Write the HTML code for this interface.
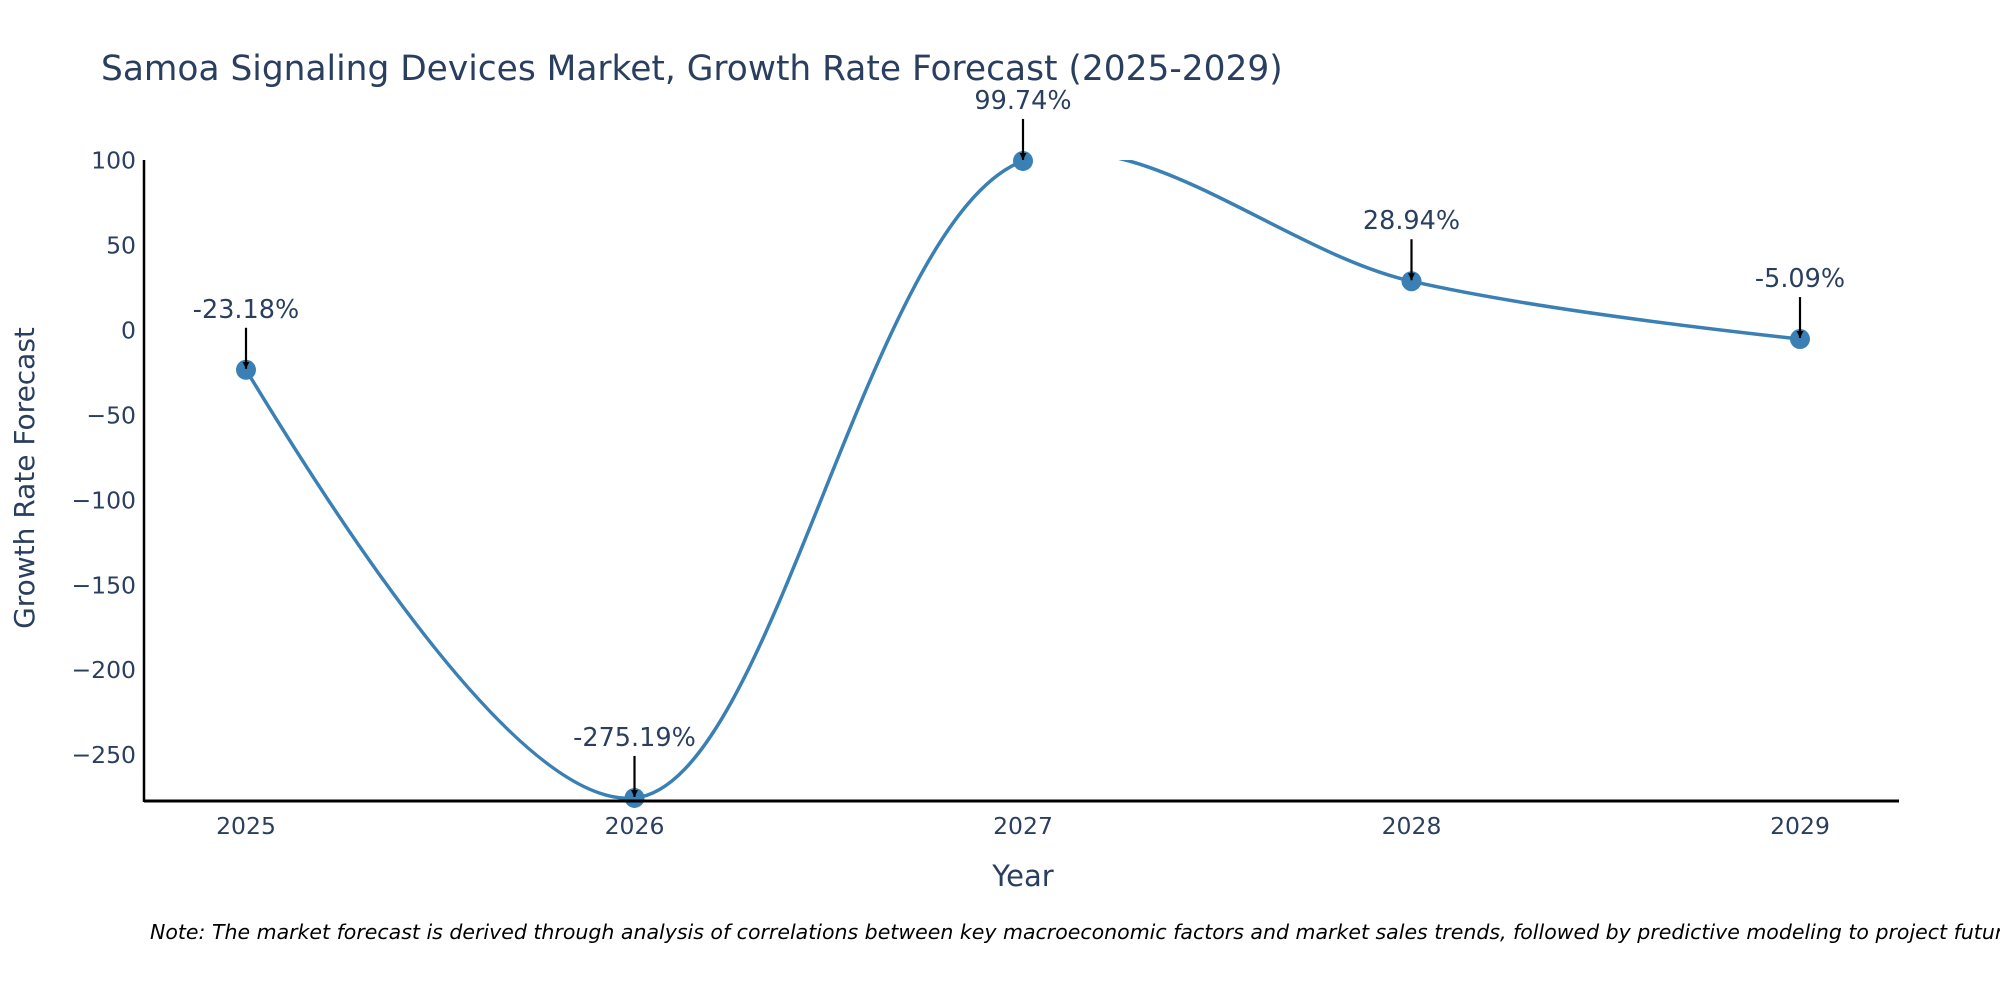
<!DOCTYPE html>
<html><head><meta charset="utf-8"><style>
html,body{margin:0;padding:0;background:#fff;}
svg{display:block;font-family:"DejaVu Sans","Liberation Sans",sans-serif;}
</style></head><body>
<svg id="chart" width="2000" height="1000" viewBox="0 0 2000 1000">
<defs>
<clipPath id="plotclip"><rect x="144" y="160" width="1756" height="642"/></clipPath>
<marker id="arrowhead" viewBox="0 0 10 10" refX="10" refY="5" markerWidth="7" markerHeight="7" markerUnits="userSpaceOnUse" orient="auto"><path d="M0,0 L10,5 L0,10 z" fill="#000"/></marker>
</defs>
<text x="101" y="80" font-size="34.4" fill="#2a3f5f">Samoa Signaling Devices Market, Growth Rate Forecast (2025-2029)</text>
<g id="yticks"></g>
<g id="xticks"></g>
<g clip-path="url(#plotclip)"><path id="line" fill="none" stroke="#3a80b4" stroke-width="3.5"/></g>
<g id="points"></g>
<g id="annots"></g>
<line x1="144" y1="160" x2="144" y2="802" stroke="#000" stroke-width="2.5"/>
<line x1="144" y1="801" x2="1899" y2="801" stroke="#000" stroke-width="3"/>
<text x="1023" y="886" font-size="29" fill="#2a3f5f" text-anchor="middle">Year</text>
<text transform="translate(34,478) rotate(-90)" font-size="28" fill="#2a3f5f" text-anchor="middle">Growth Rate Forecast</text>
<text x="150" y="939" font-size="20.5" font-style="italic" fill="#000">Note: The market forecast is derived through analysis of correlations between key macroeconomic factors and market sales trends, followed by predictive modeling to project future sales.</text>
</svg>
<script>
const years = [2025, 2026, 2027, 2028, 2029];
const growth = [-23.18, -275.19, 99.74, 28.94, -5.09];
const yTicks = [100, 50, 0, -50, -100, -150, -200, -250];
const NS = "http://www.w3.org/2000/svg";
const X0 = 246, XSTEP = 388.5;
function xs(v){ return X0 + (v - years[0]) * XSTEP; }
const Y0 = 330.4, YK = 1.699;
function ys(v){ return Y0 - v * YK; }
function mk(tag, attrs, parent){
  const e = document.createElementNS(NS, tag);
  for (const k in attrs) e.setAttribute(k, attrs[k]);
  parent.appendChild(e); return e;
}
const fmt = v => v < 0 ? "\u2212" + Math.abs(v) : String(v);
const yg = document.getElementById("yticks");
yTicks.forEach(t => {
  const e = mk("text", {x: 136, y: ys(t) + 8, "font-size": 23.5, fill: "#2a3f5f", "text-anchor": "end"}, yg);
  
  
  e.textContent = fmt(t);
});
const xg = document.getElementById("xticks");
years.forEach(y => {
  const e = mk("text", {x: xs(y), y: 834, "font-size": 23.5, fill: "#2a3f5f", "text-anchor": "middle"}, xg);
  
  
  e.textContent = y;
});
const pts = years.map((y, i) => [xs(y), ys(growth[i])]);
function tangent(p0, p1, p2, s){
  const d1x = p0[0]-p1[0], d1y = p0[1]-p1[1], d2x = p2[0]-p1[0], d2y = p2[1]-p1[1];
  const d1a = Math.pow(d1x*d1x + d1y*d1y, 0.25), d2a = Math.pow(d2x*d2x + d2y*d2y, 0.25);
  const nx = (d2a*d2a*d1x - d1a*d1a*d2x) * s, ny = (d2a*d2a*d1y - d1a*d1a*d2y) * s;
  const den1 = 3*d2a*(d1a+d2a), den2 = 3*d1a*(d1a+d2a);
  return [[p1[0]+nx/den1, p1[1]+ny/den1], [p1[0]-nx/den2, p1[1]-ny/den2]];
}
const tg = [];
for (let i = 1; i < pts.length - 1; i++) tg.push(tangent(pts[i-1], pts[i], pts[i+1], 1));
const P = p => p[0].toFixed(2) + "," + p[1].toFixed(2);
let d = "M" + P(pts[0]) + "Q" + P(tg[0][0]) + " " + P(pts[1]);
for (let i = 2; i < pts.length - 1; i++) d += "C" + P(tg[i-2][1]) + " " + P(tg[i-1][0]) + " " + P(pts[i]);
d += "Q" + P(tg[tg.length-1][1]) + " " + P(pts[pts.length-1]);
document.getElementById("line").setAttribute("d", d);
const pg = document.getElementById("points");
const ag = document.getElementById("annots");
pts.forEach((p, i) => {
  const c = mk("circle", {cx: p[0], cy: p[1], r: 10, fill: "#3a80b4"}, pg);
  
  
  const a = mk("line", {x1: p[0], y1: p[1] - 42, x2: p[0], y2: p[1] - 1, stroke: "#000", "stroke-width": 2.2, "marker-end": "url(#arrowhead)"}, ag);
  
  
  const t = mk("text", {x: p[0], y: p[1] - 52, "font-size": 25.5, fill: "#2a3f5f", "text-anchor": "middle"}, ag);
  
  
  t.textContent = growth[i].toFixed(2) + "%";
});
</script>
</body></html>
